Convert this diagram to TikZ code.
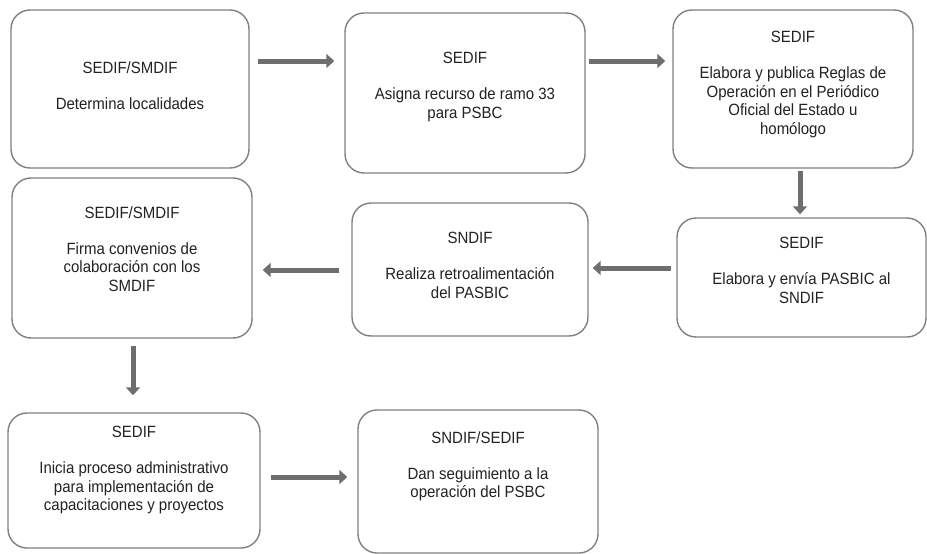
\documentclass[tikz,border=0pt]{standalone}
\usepackage{fontspec}
\setmainfont{Liberation Sans}[FakeStretch=0.92]
\usetikzlibrary{arrows.meta}
\definecolor{boxline}{HTML}{808080}
\definecolor{arrcol}{HTML}{6E6E6E}
\definecolor{txtcol}{HTML}{222222}
\tikzset{
  box/.style={draw=boxline, line width=1.4pt, rounded corners=19pt, fill=white, inner sep=0pt},
  txt/.style={text=txtcol, align=center, inner sep=0pt, anchor=north, font=\fontsize{16.3}{18.4}\selectfont},
  arr/.style={draw=arrcol, line width=5pt, -{Triangle[length=8pt,width=14pt]}}
}
\begin{document}
\begin{tikzpicture}[x=1pt,y=-1pt]
\useasboundingbox (0,0) rectangle (927,554);
% boxes
\node[box, minimum width=238pt, minimum height=158pt] (b1) at (130,89) {};
\node[box, minimum width=240pt, minimum height=160pt] (b2) at (465,93) {};
\node[box, minimum width=240pt, minimum height=158pt] (b3) at (793,89) {};
\node[box, minimum width=249pt, minimum height=119pt] (b4) at (801.5,277.5) {};
\node[box, minimum width=236pt, minimum height=133pt] (b5) at (470,269.5) {};
\node[box, minimum width=240pt, minimum height=160pt] (b6) at (132,258) {};
\node[box, minimum width=252pt, minimum height=135pt] (b7) at (134,480.5) {};
\node[box, minimum width=240pt, minimum height=143pt] (b8) at (478,481.5) {};
% texts
\node[txt] (t1) at (130,61) {SEDIF/SMDIF\\[18pt]Determina localidades};
\node[txt] (t2) at (465,52) {SEDIF\\[18pt]Asigna recurso de ramo 33\\para PSBC};
\node[txt] (t3) at (793,31) {SEDIF\\[18pt]Elabora y publica Reglas de\\Operación en el Periódico\\Oficial del Estado u\\homólogo};
\node[txt] (t4) at (801.5,237) {SEDIF\\[18pt]Elabora y envía PASBIC al\\SNDIF};
\node[txt] (t5) at (470,232) {SNDIF\\[18pt]Realiza retroalimentación\\del PASBIC};
\node[txt] (t6) at (132,206) {SEDIF/SMDIF\\[18pt]Firma convenios de\\colaboración con los\\SMDIF};
\node[txt] (t7) at (134,426) {SEDIF\\[18pt]Inicia proceso administrativo\\para implementación de\\capacitaciones y proyectos};
\node[txt] (t8) at (478,431) {SNDIF/SEDIF\\[18pt]Dan seguimiento a la\\operación del PSBC};
% arrows
\draw[arr, shorten <=8pt, shorten >=10pt] (b1.east |- 0,61) -- (b2.west |- 0,61);
\draw[arr, shorten <=3pt, shorten >=7pt] (b2.east |- 0,61) -- (b3.west |- 0,61);
\draw[arr, shorten <=2pt, shorten >=3pt] (b3.south -| 800,0) -- (b4.north -| 800,0);
\draw[arr, shorten <=5pt, shorten >=4pt] (b4.west |- 0,268) -- (b5.east |- 0,268);
\draw[arr, shorten <=12pt, shorten >=10pt] (b5.west |- 0,270) -- (b6.east |- 0,270);
\draw[arr, shorten <=7pt, shorten >=17pt] (b6.south -| 133,0) -- (b7.north -| 133,0);
\draw[arr, shorten <=10pt, shorten >=10pt] (b7.east |- 0,477) -- (b8.west |- 0,477);
\end{tikzpicture}
\end{document}
